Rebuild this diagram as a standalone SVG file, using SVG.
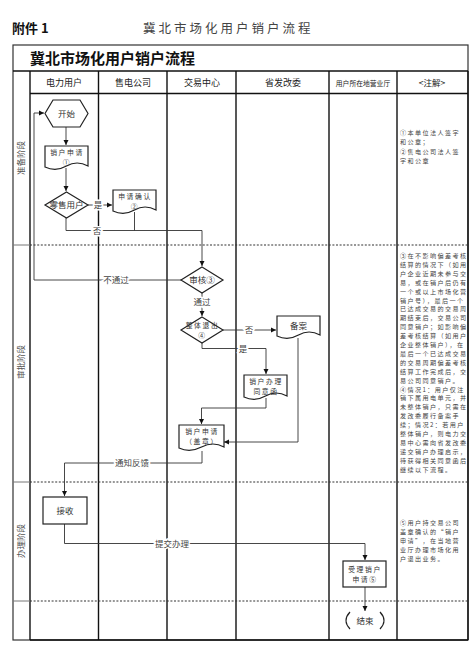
<svg xmlns="http://www.w3.org/2000/svg" width="474" height="646" viewBox="0 0 474 646">
<style>
text{font-family:"Noto Sans CJK SC","Liberation Sans",sans-serif;fill:#333}
.t{font-size:8.5px;text-anchor:middle}
.t2{font-size:6.8px;letter-spacing:1.6px;text-anchor:middle}
.h{font-size:9px;text-anchor:middle;fill:#222}
.n{font-size:6.1px;letter-spacing:1.4px;fill:#444}
.ph{font-size:8.5px;text-anchor:middle;fill:#555}
.lbl{font-size:8.5px;text-anchor:middle;paint-order:stroke;stroke:#fff;stroke-width:3px;fill:#444}
.shape{fill:#fff;stroke:#222;stroke-width:1.2}
.ln{fill:none;stroke:#333;stroke-width:0.9}
.lane{stroke:#111;stroke-width:1.4}
.dot{stroke:#333;stroke-width:1.2;stroke-dasharray:2,1.6}
.gray{stroke:#777;stroke-width:1}
</style>
<defs>
<marker id="ah" markerWidth="6" markerHeight="6" refX="5" refY="3" orient="auto" markerUnits="userSpaceOnUse">
<path d="M0,0.5 L5,3 L0,5.5 Z" fill="#111"/>
</marker>
</defs>
<rect width="474" height="646" fill="#fff"/>
<text x="12" y="33" style="font-size:13px;font-weight:bold;fill:#111">附件 1</text>
<text x="143" y="33" style="font-size:12.5px;letter-spacing:3px;fill:#444">冀北市场化用户销户流程</text>

<g id="table">
<rect x="13" y="45" width="455" height="595" fill="none" stroke="#333" stroke-width="1.2"/>
<line x1="13" y1="71" x2="468" y2="71" class="lane"/>
<text x="30" y="64" style="font-size:15px;font-weight:bold;fill:#111">冀北市场化用户销户流程</text>
<line x1="30" y1="93.5" x2="468" y2="93.5" class="lane"/>
<line x1="30" y1="71" x2="30" y2="640" class="lane"/>
<line x1="98.5" y1="71" x2="98.5" y2="640" class="lane"/>
<line x1="167" y1="71" x2="167" y2="640" class="lane"/>
<line x1="236" y1="71" x2="236" y2="640" class="lane"/>
<line x1="329" y1="71" x2="329" y2="640" class="lane"/>
<line x1="397" y1="71" x2="397" y2="640" class="lane"/>
<line x1="468" y1="71" x2="468" y2="640" class="lane"/>
<line x1="30" y1="640" x2="468" y2="640" class="lane"/>
<text x="64" y="86" class="h">电力用户</text>
<text x="133" y="86" class="h">售电公司</text>
<text x="202" y="86" class="h">交易中心</text>
<text x="283" y="86" class="h">省发改委</text>
<text x="363" y="85.5" class="h" style="font-size:6.8px">用户所在地营业厅</text>
<text x="432" y="86" class="h" style="font-size:8.5px">&lt;注解&gt;</text>
<line x1="30" y1="245" x2="468" y2="245" class="dot"/>
<line x1="30" y1="482" x2="468" y2="482" class="dot"/>
<line x1="30" y1="601" x2="468" y2="601" class="dot"/>
<line x1="13" y1="245" x2="30" y2="245" class="gray"/>
<line x1="13" y1="482" x2="30" y2="482" class="gray"/>
<line x1="13" y1="601" x2="30" y2="601" class="gray"/>
<text transform="translate(24,158) rotate(-90)" class="ph">准备阶段</text>
<text transform="translate(24,362) rotate(-90)" class="ph">审批阶段</text>
<text transform="translate(24,541) rotate(-90)" class="ph">办理阶段</text>
</g>

<g id="connectors">
<path d="M66,127 V145" class="ln" marker-end="url(#ah)"/>
<path d="M66,168 V191" class="ln" marker-end="url(#ah)"/>
<path d="M88,205 H112" class="ln" marker-end="url(#ah)"/>
<path d="M66,218 V230.5 H202 V266" class="ln" marker-end="url(#ah)"/>
<path d="M134.5,212 V230.5" class="ln"/>
<path d="M182,280 H34 V113 H44" class="ln" marker-end="url(#ah)"/>
<path d="M202,293 V316" class="ln" marker-end="url(#ah)"/>
<path d="M223,330 H276" class="ln" marker-end="url(#ah)"/>
<path d="M202,343 V348.5 H266 V374" class="ln" marker-end="url(#ah)"/>
<path d="M266,398 V408 H201.5 V424" class="ln" marker-end="url(#ah)"/>
<path d="M298,338 V442 H224" class="ln" marker-end="url(#ah)"/>
<path d="M202,451 V463 H64.5 V496" class="ln" marker-end="url(#ah)"/>
<path d="M64.5,524 V543.5 H365 V560" class="ln" marker-end="url(#ah)"/>
<path d="M365,587 V611" class="ln" marker-end="url(#ah)"/>
<text x="98" y="208" class="lbl">是</text>
<text x="97" y="233.5" class="lbl">否</text>
<text x="116" y="283" class="lbl">不通过</text>
<text x="202" y="305" class="lbl">通过</text>
<text x="249" y="333" class="lbl">否</text>
<text x="243" y="351.5" class="lbl">是</text>
<text x="132" y="466" class="lbl">通知反馈</text>
<text x="172" y="546.5" class="lbl">提交办理</text>
</g>

<g id="start">
<path d="M53,100 H80 L88,113.5 L80,127 H53 L45,113.5 Z" class="shape"/>
<text x="66.5" y="116.5" class="t">开始</text>
</g>
<g id="apply1">
<path d="M45,146 H88 V166 Q77,160 66.5,166 Q56,172 45,167 Z" class="shape"/>
<text x="67" y="154.5" class="t2">销户申请</text>
<text x="67" y="164.5" class="t2">①</text>
</g>
<g id="retail">
<path d="M66.5,192 L88,205 L66.5,218 L45,205 Z" class="shape"/>
<text x="66.5" y="208" class="t">零售用户</text>
</g>
<g id="confirm">
<path d="M113,190 H156 V210 Q145,204 134.5,210 Q124,216 113,211 Z" class="shape"/>
<text x="135" y="198.5" class="t2">申请确认</text>
<text x="135" y="208.5" class="t2">②</text>
</g>
<g id="review">
<path d="M202,267 L223,280 L202,293 L181,280 Z" class="shape"/>
<text x="202" y="283" class="t">审核③</text>
</g>
<g id="exit">
<path d="M202,317 L223,330 L202,343 L181,330 Z" class="shape"/>
<text x="202.5" y="328" class="t2">整体退出</text>
<text x="202.5" y="338" class="t2">④</text>
</g>
<g id="record">
<path d="M277,316 H320 V335 Q309,329 298.5,335 Q288,341 277,336 Z" class="shape"/>
<text x="298.5" y="328.5" class="t">备案</text>
</g>
<g id="consent">
<path d="M244,375 H287 V396 Q276,390 265.5,396 Q255,402 244,397 Z" class="shape"/>
<text x="266" y="383.5" class="t2">销户办理</text>
<text x="266" y="393.5" class="t2">同意函</text>
</g>
<g id="apply2">
<path d="M179,425 H224 V447 Q213,441 201.5,447 Q190,453 179,448 Z" class="shape"/>
<text x="202" y="434" class="t2">销户申请</text>
<text x="202" y="444" class="t2">（盖章）</text>
</g>
<g id="receive">
<rect x="43" y="497" width="44" height="27" class="shape"/>
<text x="65" y="513.5" class="t">接收</text>
</g>
<g id="accept">
<rect x="343" y="561" width="43" height="26" class="shape" stroke-width="1.8"/>
<text x="365" y="571.5" class="t2">受理销户</text>
<text x="365" y="581.5" class="t2">申请⑤</text>
</g>
<g id="end">
<path d="M350,612 Q342,620.5 350,629 M380,612 Q388,620.5 380,629" class="shape" fill="none"/>
<text x="365" y="623.5" class="t">结束</text>
</g>

<g id="notes">
<text class="n"><tspan x="400" y="135">①本单位法人签字</tspan><tspan x="400" y="144.3">和公章；</tspan><tspan x="400" y="153.6">②售电公司法人签</tspan><tspan x="400" y="162.9">字和公章</tspan></text>
<text class="n"><tspan x="400" y="258">③在不影响偏差考核</tspan><tspan x="400" y="266.9">结算的情况下（如用</tspan><tspan x="400" y="275.8">户企业近期未参与交</tspan><tspan x="400" y="284.7">易，或在销户后仍有</tspan><tspan x="400" y="293.6">一个或以上市场化营</tspan><tspan x="400" y="302.5">销户号），最后一个</tspan><tspan x="400" y="311.4">已达成交易的交易周</tspan><tspan x="400" y="320.3">期结束后，交易公司</tspan><tspan x="400" y="329.2">同意销户；如影响偏</tspan><tspan x="400" y="338.1">差考核结算（如用户</tspan><tspan x="400" y="347">企业整体销户），在</tspan><tspan x="400" y="355.9">最后一个已达成交易</tspan><tspan x="400" y="364.8">的交易周期偏差考核</tspan><tspan x="400" y="373.7">结算工作完成后，交</tspan><tspan x="400" y="382.6">易公司同意销户。</tspan><tspan x="400" y="391.5">④情况1：用户仅注</tspan><tspan x="400" y="400.4">销下属用电单元，并</tspan><tspan x="400" y="409.3">未整体销户，只需在</tspan><tspan x="400" y="418.2">发改委履行备案手</tspan><tspan x="400" y="427.1">续；情况2：若用户</tspan><tspan x="400" y="436">整体销户，则电力交</tspan><tspan x="400" y="444.9">易中心需向省发改委</tspan><tspan x="400" y="453.8">递交销户办理启示，</tspan><tspan x="400" y="462.7">待获得相关同意函后</tspan><tspan x="400" y="471.6">继续以下流程。</tspan></text>
<text class="n"><tspan x="400" y="525">⑤用户持交易公司</tspan><tspan x="400" y="534">盖章确认的“销户</tspan><tspan x="400" y="543">申请”，在当地营</tspan><tspan x="400" y="552">业厅办理市场化用</tspan><tspan x="400" y="561">户退出业务。</tspan></text>
</g>
</svg>
